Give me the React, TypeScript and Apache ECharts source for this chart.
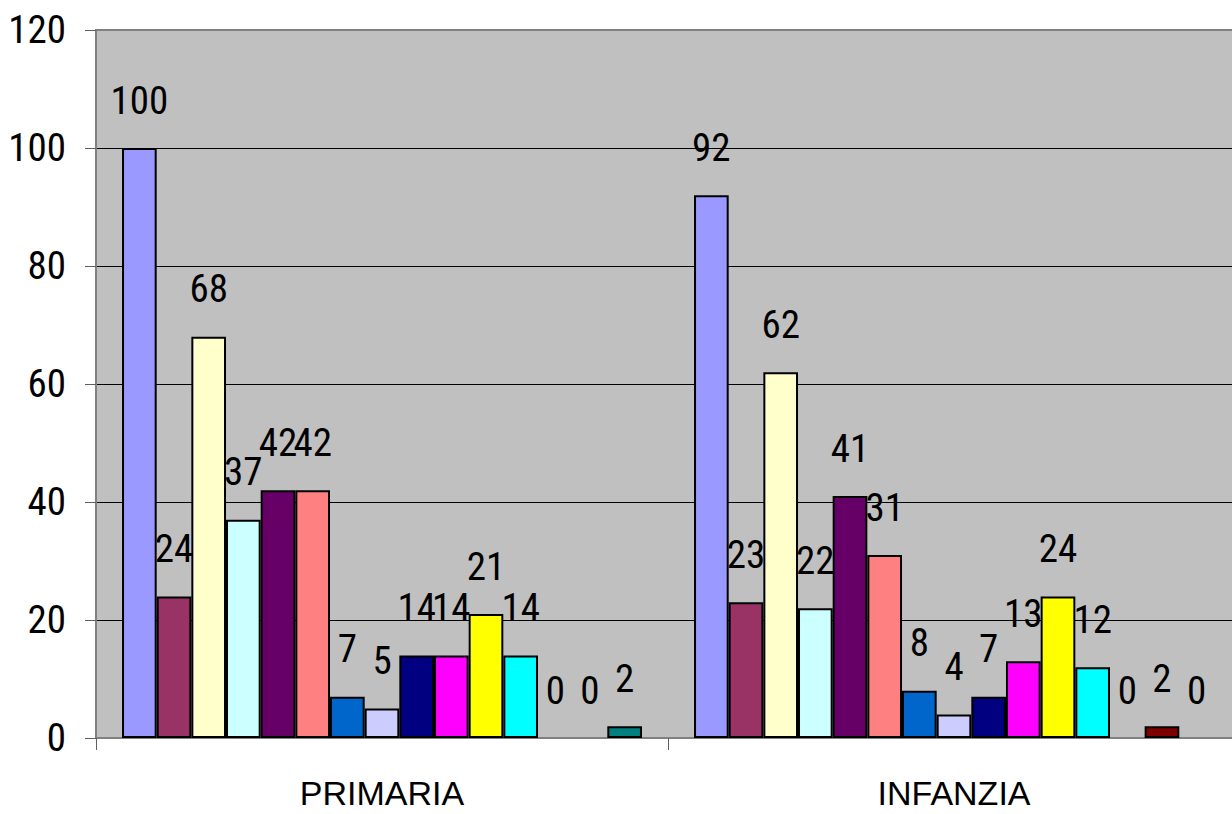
import React, { useEffect, useRef } from "react";
import * as echarts from "echarts";

const categories = ["PRIMARIA", "INFANZIA"];

const seriesNames = [
  "Serie 1", "Serie 2", "Serie 3", "Serie 4", "Serie 5",
  "Serie 6", "Serie 7", "Serie 8", "Serie 9", "Serie 10",
  "Serie 11", "Serie 12", "Serie 13", "Serie 14", "Serie 15",
];

const seriesValues = [
  [100, 92],
  [24, 23],
  [68, 62],
  [37, 22],
  [42, 41],
  [42, 31],
  [7, 8],
  [5, 4],
  [14, 7],
  [14, 13],
  [21, 24],
  [14, 12],
  [0, 0],
  [0, 2],
  [2, 0],
];

const seriesColors = [
  "#9999FF", "#993366", "#FFFFCC", "#CCFFFF", "#660066",
  "#FF8080", "#0066CC", "#CCCCFF", "#000080", "#FF00FF",
  "#FFFF00", "#00FFFF", "#800080", "#800000", "#008080",
];

const yMin = 0;
const yMax = 120;
const yStep = 20;

const numFont = "'Roboto Condensed', 'Liberation Sans', Arial, sans-serif";
const catFont = "'Liberation Sans', Arial, sans-serif";

export default function App() {
  const ref = useRef<HTMLDivElement>(null);

  useEffect(() => {
    if (!ref.current) return;
    const chart = echarts.init(ref.current, undefined, { renderer: "svg" });
    const splitColors = [];
    for (let v = yMin; v <= yMax; v += yStep) {
      splitColors.push(v === yMin || v === yMax ? "#808080" : "#000000");
    }
    chart.setOption({
      animation: false,
      backgroundColor: "#FFFFFF",
      grid: {
        left: 96,
        top: 30,
        right: 0,
        bottom: 76,
        show: true,
        backgroundColor: "#C0C0C0",
        borderColor: "#808080",
        borderWidth: 2,
        containLabel: false,
      },
      xAxis: {
        type: "category",
        data: categories,
        boundaryGap: true,
        axisLine: { show: true, lineStyle: { color: "#808080", width: 2 } },
        axisTick: { show: true, alignWithLabel: false, length: 12, lineStyle: { color: "#606060", width: 1 } },
        axisLabel: {
          show: true,
          margin: 38,
          fontSize: 34,
          fontFamily: catFont,
          color: "#000000",
        },
        splitLine: { show: false },
      },
      yAxis: {
        type: "value",
        min: yMin,
        max: yMax,
        interval: yStep,
        axisLine: { show: true, lineStyle: { color: "#808080", width: 2 } },
        axisTick: { show: true, length: 11, lineStyle: { color: "#606060", width: 1 } },
        axisLabel: {
          show: true,
          margin: 30,
          fontSize: 39,
          fontFamily: numFont,
          color: "#000000",
        },
        splitLine: { show: true, lineStyle: { color: splitColors, width: 1 } },
      },
      series: seriesValues.map((vals, i) => ({
        name: seriesNames[i],
        type: "bar",
        barGap: "0%",
        barCategoryGap: "9.1%",
        data: vals.map((v) =>
          v === 0 ? { value: v, itemStyle: { borderWidth: 0 } } : v
        ),
        itemStyle: {
          color: seriesColors[i],
          borderColor: "#000000",
          borderWidth: 2,
        },
        label: {
          show: true,
          position: "top",
          distance: 28,
          fontSize: 39,
          fontFamily: numFont,
          color: "#000000",
        },
      })),
    });
    return () => chart.dispose();
  }, []);

  return (
    <div style={{ position: "fixed", left: 0, top: 0, width: 1232, height: 814, overflow: "hidden" }}>
      <div ref={ref} style={{ width: 1240, height: 814 }} />
    </div>
  );
}
